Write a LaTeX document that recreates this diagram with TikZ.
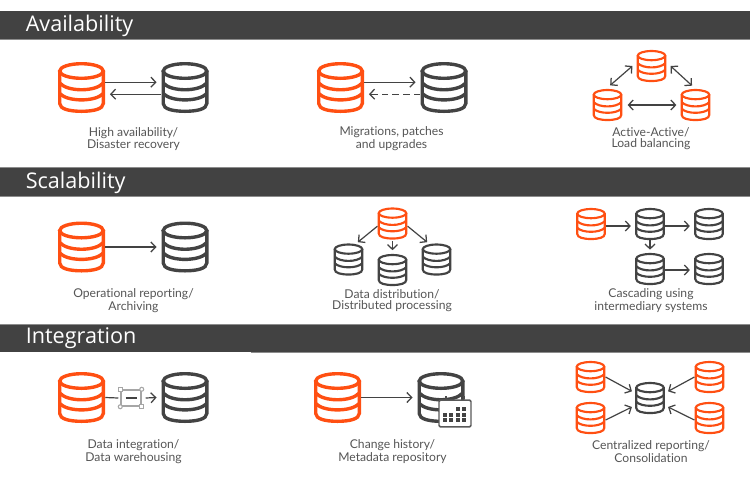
\documentclass[tikz,border=0pt]{standalone}
\usepackage{fontspec}
\setmainfont[Ligatures=NoCommon]{Lato}
\newfontfamily\titlefont{Open Sans}
\usepackage{xcolor}
\usetikzlibrary{arrows.meta,positioning}
\definecolor{dborange}{HTML}{FF4F12}
\definecolor{dbgrey}{HTML}{434343}
\definecolor{bargrey}{HTML}{424242}
\definecolor{capgrey}{HTML}{555555}
% database icon: scale, name, position, colour
\newcommand{\dbnode}[4]{%
  \node[inner sep=0pt,minimum width=#1*35.25pt,minimum height=#1*38.25pt] (#2) at (#3) {};
  \begin{scope}[shift={(#2.center)},scale=#1,draw=#4,line width=#1*2.55pt]
    \draw (0,-16.5) ellipse [x radius=21.8,y radius=7.3];
    \draw (-21.8,-16.5) -- (-21.8,16) .. controls (-21.8,21.5) and (-12,23.8) .. (0,23.8)
      .. controls (12,23.8) and (21.8,21.5) .. (21.8,16) -- (21.8,-16.5);
    \draw (-21.8,-4.5) .. controls (-14,4.5) and (14,4.5) .. (21.8,-4.5);
    \draw (-21.8,6) .. controls (-14,14.5) and (14,14.5) .. (21.8,6);
  \end{scope}}
\begin{document}
\begin{tikzpicture}[x=.75pt,y=-.75pt,
  bar/.style={fill=bargrey,draw=none,inner sep=0pt,minimum width=562.5pt,minimum height=21pt,anchor=north west},
  head/.style={text=white,font=\titlefont\fontsize{16.2}{18}\selectfont,anchor=west,inner sep=0pt},
  captxt/.style={text=capgrey,font=\fontsize{9.1}{8.25}\selectfont,align=center,inner sep=0pt},
  arr/.style={-{Straight Barb[length=3.6pt,width=7.5pt,line width=.95pt]},draw=dbgrey,line width=.9pt},
  dblarr/.style={{Straight Barb[length=3.6pt,width=7.5pt,line width=.95pt]}-{Straight Barb[length=3.6pt,width=7.5pt,line width=.95pt]},draw=dbgrey,line width=.9pt},
  handle/.style={draw=black!35,fill=white,line width=.8pt,inner sep=0pt,minimum size=3pt}]
\useasboundingbox (0,0) rectangle (750,476);
% section bars
\node[bar] (availbar) at (0,11) {};
\node[bar] (scalebar) at (0,167.5) {};
\node[bar] (integbar) at (0,324) {};
\draw[black!45,line width=.75pt] (availbar.south west) -- (availbar.south east);
\draw[black!45,line width=.75pt] (scalebar.north west) -- (scalebar.north east);
\draw[black!45,line width=.75pt] (scalebar.south west) -- (scalebar.south east);
\draw[black!45,line width=.75pt] (integbar.north west) -- (integbar.north east);
\draw[black!45,line width=.75pt] (integbar.south west) ++(188pt,0) -- (integbar.south east);
\node[head] (availhead) at (25.5,26) {Availability};
\node[head] (scalehead) at (25.5,182.5) {Scalability};
\node[head] (integhead) at (25.5,338) {Integration};
% availability
\dbnode{1}{haorg}{81.5,87.5}{dborange}
\dbnode{1}{hadst}{185,87.5}{dbgrey}
\draw[arr] ([yshift=4pt]haorg.east) -- ([yshift=4pt,xshift=-3.5pt]hadst.west);
\draw[arr] ([yshift=-5pt]hadst.west) -- ([yshift=-5pt,xshift=3.5pt]haorg.east);
\node[captxt] (hacap) at (133.5,138.8) {High availability/\\Disaster recovery};
\dbnode{1}{migorg}{340.5,87.5}{dborange}
\dbnode{1}{migdst}{444,87.5}{dbgrey}
\draw[arr] ([yshift=4pt]migorg.east) -- ([yshift=4pt,xshift=-3.5pt]migdst.west);
\draw[arr,dash pattern=on 5pt off 3pt] ([yshift=-5pt]migdst.west) -- ([yshift=-5pt,xshift=3.5pt]migorg.east);
\node[captxt] (migcap) at (391.5,138.8) {Migrations, patches\\and upgrades};
\dbnode{.63}{aatop}{651.5,66}{dborange}
\dbnode{.63}{aaleft}{607.5,105}{dborange}
\dbnode{.63}{aaright}{695.5,105}{dborange}
\draw[dblarr] ([xshift=-3pt]aatop.west) -- ([shift={(2pt,2.5pt)}]aaleft.north);
\draw[dblarr] ([xshift=3pt]aatop.east) -- ([shift={(-2.6pt,2.25pt)}]aaright.north);
\draw[dblarr] ([xshift=3.75pt]aaleft.east) -- ([xshift=-3pt]aaright.west);
\node[captxt] (aacap) at (651,138.8) {Active-Active/\\Load balancing};
% scalability
\dbnode{1}{oporg}{81.5,247}{dborange}
\dbnode{1}{opdst}{185,247}{dbgrey}
\draw[arr] (oporg.east) -- ([xshift=-3.5pt]opdst.west);
\node[captxt] (opcap) at (133.5,300.8) {Operational reporting/\\Archiving};
\dbnode{.63}{ddorg}{392.5,223.5}{dborange}
\dbnode{.63}{ddleft}{348.5,259.5}{dbgrey}
\dbnode{.63}{ddmid}{392.5,270}{dbgrey}
\dbnode{.63}{ddright}{436.5,259.5}{dbgrey}
\draw[arr] ([yshift=-2pt]ddorg.west) -- ([shift={(7pt,.75pt)}]ddleft.north);
\draw[arr] ([yshift=-.75pt]ddorg.south) -- ([yshift=2.6pt]ddmid.north);
\draw[arr] ([yshift=-2pt]ddorg.east) -- ([shift={(-7pt,.75pt)}]ddright.north);
\node[captxt] (ddcap) at (392,300.8) {Data distribution/\\Distributed processing};
\dbnode{.63}{casorg}{591,224}{dborange}
\dbnode{.63}{casa}{650,224}{dbgrey}
\dbnode{.63}{casb}{709,224}{dbgrey}
\dbnode{.63}{casc}{650,269}{dbgrey}
\dbnode{.63}{casd}{709,269}{dbgrey}
\draw[arr] ([yshift=-1.5pt]casorg.east) -- ([shift={(-3pt,-1.5pt)}]casa.west);
\draw[arr] ([yshift=-1.5pt]casa.east) -- ([shift={(-3pt,-1.5pt)}]casb.west);
\draw[arr] (casa.south) -- ([yshift=2.25pt]casc.north);
\draw[arr] ([yshift=-.75pt]casc.east) -- ([shift={(-3pt,-.75pt)}]casd.west);
\node[captxt] (cascap) at (651,300.8) {Cascading using\\intermediary systems};
% integration
\dbnode{1}{diorg}{81.5,397.5}{dborange}
\dbnode{1}{didst}{185,397.5}{dbgrey}
\node[inner sep=0pt,minimum width=15pt,minimum height=12pt,draw=black!35,line width=1.1pt] (tform) at (131,398) {};
\node[handle] (tformnw) at (tform.north west) {};
\node[handle,circle] (tformne) at (tform.north east) {};
\node[handle,circle] (tformsw) at (tform.south west) {};
\node[handle] (tformse) at (tform.south east) {};
\draw[arr,-] (diorg.east) -- ([xshift=-1.5pt]tform.west);
\draw[draw=dbgrey,line width=.9pt] ([xshift=-4pt]tform.center) -- ([xshift=4.5pt]tform.center);
\draw[arr] ([xshift=3pt]tform.east) -- ([xshift=-3.5pt]didst.west);
\node[captxt] (dicap) at (133.5,451.8) {Data integration/\\Data warehousing};
\dbnode{1}{chorg}{337.5,397.5}{dborange}
\dbnode{1}{chdst}{441,397.5}{dbgrey}
\draw[arr] (chorg.east) -- ([xshift=-3.5pt]chdst.west);
\node[inner sep=0pt,minimum width=24pt,minimum height=20pt,draw=black!65,fill=white,line width=1.1pt,
  rounded corners=1pt] (cal) at (455,413.5) {};
\draw[black!70,line width=1.3pt] ([xshift=-6.5pt]cal.north) -- ++(0,2.5pt);
\draw[black!70,line width=1.3pt] ([xshift=6.5pt]cal.north) -- ++(0,2.5pt);
\foreach \cx/\cy in {2/0,3/0,0/1,1/1,2/1,3/1,0/2,1/2,2/2,3/2}
  \fill[dbgrey] ([shift={(-9pt+\cx*4.75pt,1.9pt-\cy*4.15pt)}]cal.center) rectangle ++(3pt,3pt);
\node[captxt] (chcap) at (392.5,451.8) {Change history/\\Metadata repository};
\dbnode{.63}{crtl}{590.5,377}{dborange}
\dbnode{.63}{crbl}{590.5,418}{dborange}
\dbnode{.63}{crtr}{709.5,377}{dborange}
\dbnode{.63}{crbr}{709.5,418}{dborange}
\dbnode{.63}{crmid}{650,398}{dbgrey}
\draw[arr] (crtl.east) -- ([shift={(-2.25pt,5pt)}]crmid.west);
\draw[arr] ([yshift=-1.5pt]crbl.east) -- ([shift={(-2.25pt,-6.75pt)}]crmid.west);
\draw[arr] (crtr.west) -- ([shift={(2.25pt,5pt)}]crmid.east);
\draw[arr] ([yshift=-1.5pt]crbr.west) -- ([shift={(2.25pt,-6.75pt)}]crmid.east);
\node[captxt] (crcap) at (651,451.8) {Centralized reporting/\\Consolidation};
\end{tikzpicture}
\end{document}
